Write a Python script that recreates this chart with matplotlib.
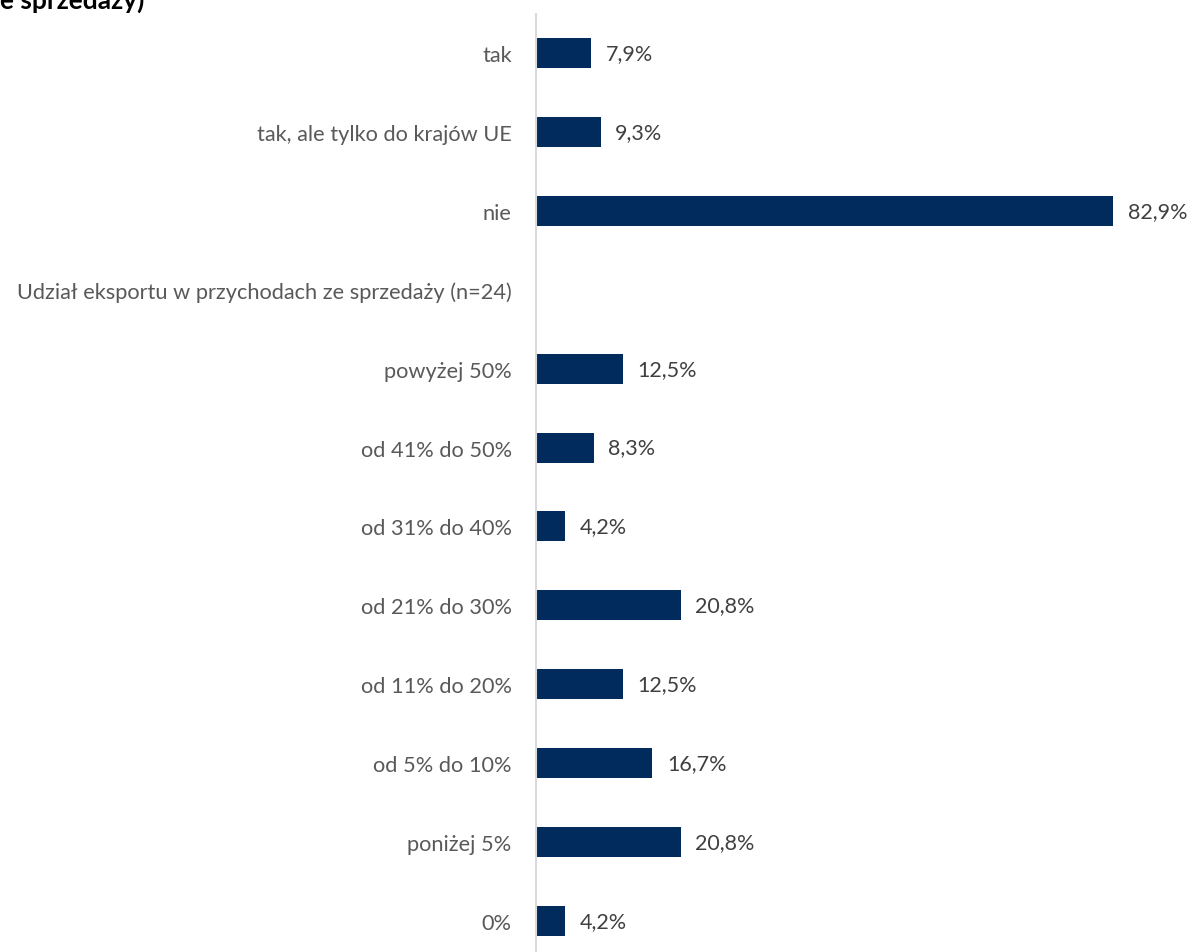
import matplotlib
matplotlib.use("Agg")
import matplotlib.pyplot as plt

categories = ["tak", "tak, ale tylko do krajów UE", "nie",
              "Udział eksportu w przychodach ze sprzedaży (n=24)",
              "powyżej 50%", "od 41% do 50%", "od 31% do 40%", "od 21% do 30%",
              "od 11% do 20%", "od 5% do 10%", "poniżej 5%", "0%"]
values = [7.9, 9.3, 82.9, None, 12.5, 8.3, 4.2, 20.8, 12.5, 16.7, 20.8, 4.2]
title_fragment = "e sprzedaży)"

plt.rcParams['font.family'] = ['Lato', 'DejaVu Sans']
W, H = 1191, 953
fig = plt.figure(figsize=(W/100, H/100), dpi=100)
x0, x1 = 536, 1191
ytop, ybot = 14.5, 961.5
ax = fig.add_axes([x0/W, 1 - ybot/H, (x1-x0)/W, (ybot-ytop)/H])
ax.set_xlim(0, (x1 - x0) / 6.96)
ax.set_ylim(len(categories) - 0.5, -0.5)

color = "#002b5c"
for i, v in enumerate(values):
    if v is None:
        continue
    ax.barh(i, v, height=0.38, color=color)
    ax.annotate(f"{v:.1f}%".replace(".", ","), xy=(v, i), xytext=(10.5, 0),
                textcoords="offset points", va="center", ha="left",
                fontsize=15.5, color="#404040")

ax.set_yticks(range(len(categories)))
ax.set_yticklabels(categories, fontsize=15.7, color="#595959")
ax.tick_params(axis='y', length=0, pad=17.5)
ax.set_xticks([])
for s in ["top", "right", "bottom"]:
    ax.spines[s].set_visible(False)
ax.spines["left"].set_color("#d9d9d9")
ax.spines["left"].set_linewidth(1.5)

fig.text(0.0, 1 - 9/H, title_fragment, fontsize=19, fontweight="bold",
         color="black", ha="left", va="baseline")

fig.savefig("out.png", dpi=100)
